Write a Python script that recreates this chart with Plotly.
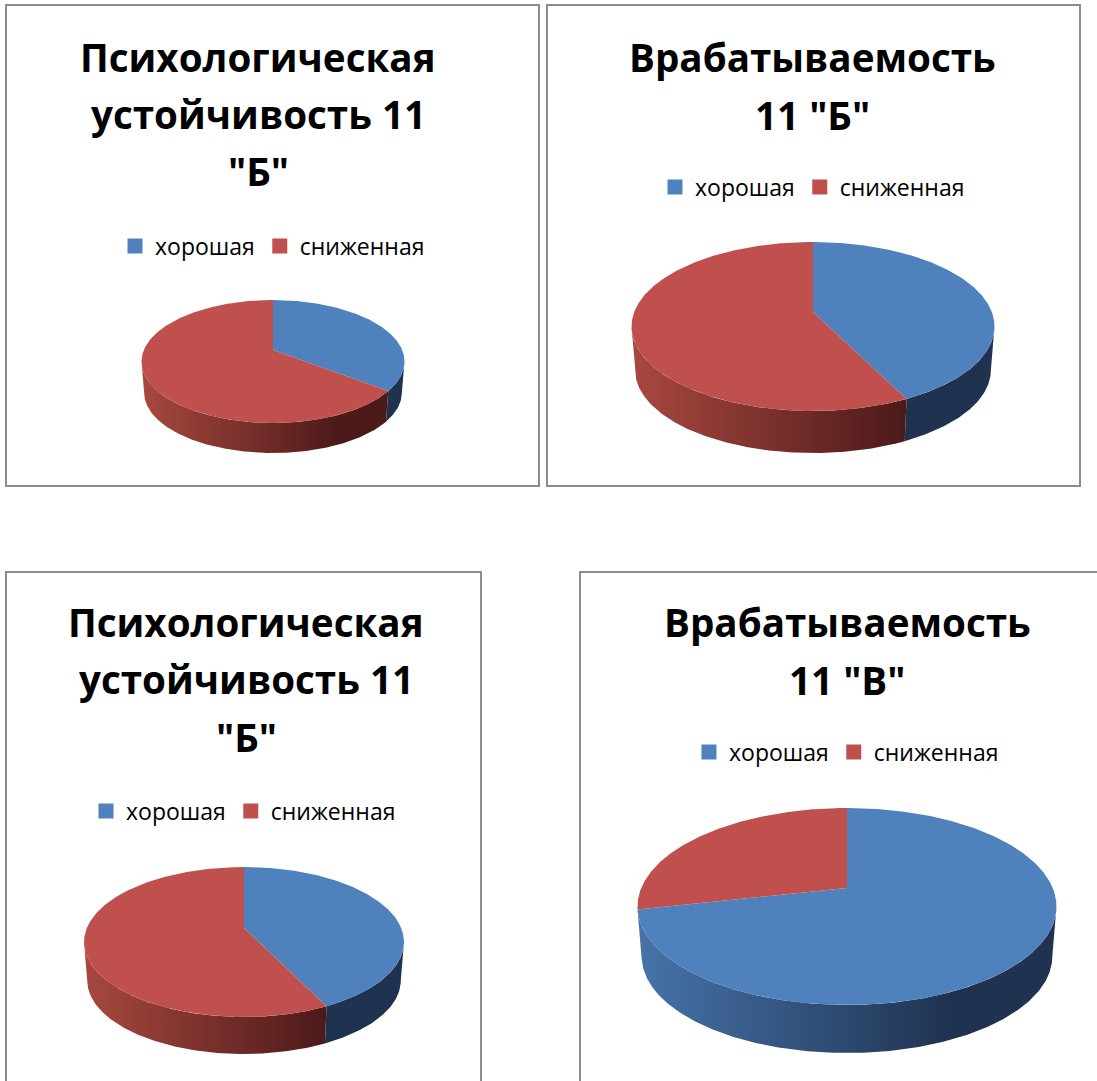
import numpy as np
import plotly.graph_objects as go

# --- data ---
categories = ["хорошая", "сниженная"]
title_a = ["Психологическая", "устойчивость 11", '"Б"']
title_b = ["Врабатываемость", '11 "Б"']
title_c = ["Психологическая", "устойчивость 11", '"Б"']
title_d = ["Врабатываемость", '11 "В"']
values_a = [35.5, 64.5]
values_b = [42.7, 57.3]
values_c = [42.8, 57.2]
values_d = [71.5, 28.5]

# --- styling / layout (pixels of the 1097x1081 page) ---
W, H = 1097, 1081
TOP = ["#4F81BD", "#C0504D"]
WALL = [("#4673AA", "#1F3350"), ("#A8483F", "#4D1A1A")]
FONT = "Open Sans"
panels = [
    dict(box=(6, 5, 539, 486), clip=(6, 5, 539, 486), cx=273, ay=350, rx=131.5, top=300, bot=423, depth=30,
         vals=values_a, title=title_a, ty=[57, 114, 171], tx=258, leg=(131, 246)),
    dict(box=(547, 5, 1080, 486), clip=(547, 5, 1080, 486), cx=813, ay=312, rx=181.5, top=242, bot=411, depth=42,
         vals=values_b, title=title_b, ty=[57, 115], tx=813, leg=(671, 187)),
    dict(box=(6, 572, 481, 1100), clip=(6, 572, 481, 1081), cx=244, ay=928, rx=160, top=867, bot=1017, depth=37,
         vals=values_c, title=title_c, ty=[622, 679, 737], tx=246, leg=(102, 811)),
    dict(box=(580, 572, 1120, 1100), clip=(580, 572, 1097, 1081), cx=847, ay=888, rx=209.5, top=808, bot=1005, depth=48,
         vals=values_d, title=title_d, ty=[622, 680], tx=847, leg=(705, 752)),
]
SHRINK = 0.98
STEP = np.radians(0.5)


def projector(p):
    up, down = p["ay"] - p["top"], p["bot"] - p["ay"]
    k = (down - up) / (down + up)
    B = up * (1 + k)
    A = p["rx"] * np.sqrt(1 - k * k)

    def rim(t, lower=False):
        u, v = np.sin(t), np.cos(t)
        w = 1 + k * v
        X, Y = A * u / w, B * v / w
        if lower:
            d = p["depth"] + down * (1 - SHRINK)
            return p["cx"] + SHRINK * X, p["ay"] - SHRINK * Y + d
        return p["cx"] + X, p["ay"] - Y

    return rim, k


fig = go.Figure()
layout = dict(
    width=W, height=H, margin=dict(l=0, r=0, t=0, b=0), autosize=False,
    paper_bgcolor="white", plot_bgcolor="white", showlegend=True,
    hovermode=False,
)
shapes, annotations = [], []

for i, p in enumerate(panels):
    n = "" if i == 0 else str(i + 1)
    l, t, r, b = p["clip"]
    layout["xaxis" + n] = dict(domain=[l / W, r / W], range=[l, r], visible=False, fixedrange=True,
                               anchor="y" + n)
    layout["yaxis" + n] = dict(domain=[1 - b / H, 1 - t / H], range=[b, t], visible=False, fixedrange=True,
                               anchor="x" + n)
    xa, ya = "x" + n, "y" + n
    leg = "legend" + n
    rim, k = projector(p)
    lo, hi = np.pi / 2 + np.arcsin(k), 3 * np.pi / 2 - np.arcsin(k)
    edges = np.cumsum([0] + p["vals"]) / sum(p["vals"]) * 2 * np.pi

    # side walls
    for j in range(2):
        a, c = max(edges[j], lo), min(edges[j + 1], hi)
        if c <= a:
            continue
        th = np.linspace(a, c, max(int((c - a) / STEP), 2))
        x1, y1 = rim(th)
        x2, y2 = rim(th[::-1], lower=True)
        fig.add_trace(go.Scatter(
            x=np.r_[x1, x2], y=np.r_[y1, y2], mode="lines", fill="toself", line=dict(width=0),
            fillgradient=dict(type="horizontal", start=p["cx"] - p["rx"], stop=p["cx"] + p["rx"],
                              colorscale=[[0, WALL[j][0]], [0.75, WALL[j][1]], [1, WALL[j][1]]]),
            showlegend=False, hoverinfo="skip", xaxis=xa, yaxis=ya))
    # top surface
    for j in range(2):
        th = np.linspace(edges[j], edges[j + 1], max(int((edges[j + 1] - edges[j]) / STEP), 2))
        x1, y1 = rim(th)
        fig.add_trace(go.Scatter(
            x=np.r_[p["cx"], x1, p["cx"]], y=np.r_[p["ay"], y1, p["ay"]], mode="lines", fill="toself",
            line=dict(width=0), fillcolor=TOP[j], showlegend=False, hoverinfo="skip", xaxis=xa, yaxis=ya))
    # legend entries
    for j, name in enumerate(categories):
        fig.add_trace(go.Scatter(
            x=[None], y=[None], mode="markers", name=name, legend=leg, xaxis=xa, yaxis=ya,
            marker=dict(symbol="square", size=15, color=TOP[j], line=dict(width=0))))
    layout[leg] = dict(
        orientation="h", x=(p["leg"][0] - 16) / W, y=1 - p["leg"][1] / H, xanchor="left", yanchor="middle",
        bgcolor="rgba(0,0,0,0)", borderwidth=0,
        font=dict(family=FONT, size=23, color="#000000"), itemclick=False, itemdoubleclick=False,
    )
    # frame
    L, T, R, B = p["box"]
    shapes.append(dict(type="rect", xref="paper", yref="paper", x0=L / W, x1=R / W, y0=1 - B / H, y1=1 - T / H,
                       line=dict(color="#8C8C8C", width=2), fillcolor="rgba(0,0,0,0)", layer="below"))
    # title
    for line, y in zip(p["title"], p["ty"]):
        annotations.append(dict(
            text="<b>%s</b>" % line, x=p["tx"] / W, y=1 - y / H, xref="paper", yref="paper",
            xanchor="center", yanchor="middle", showarrow=False,
            font=dict(family=FONT, size=38.6, color="#000000")))

layout["shapes"] = shapes
layout["annotations"] = annotations
fig.update_layout(**layout)
fig.write_html("out.html", config=dict(displayModeBar=False, responsive=False),
               post_script="document.body.style.margin='0';document.documentElement.style.overflow='hidden';")
